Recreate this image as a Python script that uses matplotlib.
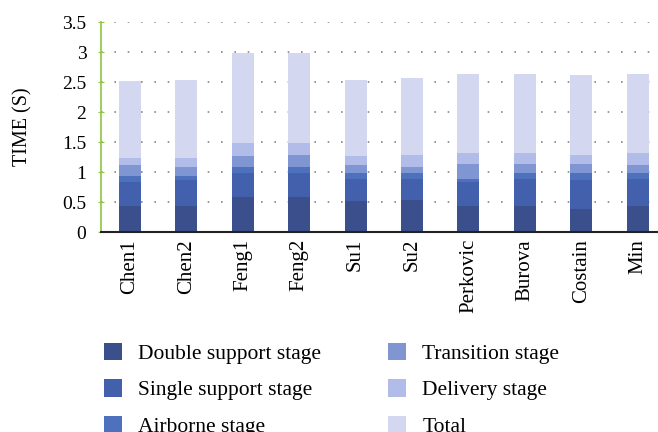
import numpy as np
import matplotlib.pyplot as plt

names = ['Chen1', 'Chen2', 'Feng1', 'Feng2', 'Su1', 'Su2', 'Perkovic', 'Burova', 'Costain', 'Min']
double_support = [0.43, 0.43, 0.58, 0.58, 0.51, 0.53, 0.44, 0.43, 0.38, 0.43]
single_support = [0.41, 0.43, 0.41, 0.41, 0.37, 0.36, 0.40, 0.45, 0.48, 0.45]
airborne = [0.09, 0.08, 0.10, 0.10, 0.10, 0.10, 0.05, 0.10, 0.12, 0.11]
transition = [0.18, 0.15, 0.17, 0.19, 0.13, 0.10, 0.24, 0.16, 0.15, 0.12]
delivery = [0.13, 0.15, 0.22, 0.20, 0.15, 0.19, 0.18, 0.17, 0.16, 0.20]
total = [1.27, 1.29, 1.50, 1.50, 1.28, 1.28, 1.33, 1.33, 1.32, 1.33]

series = [
    ('Double support stage', double_support, '#3a4f8c'),
    ('Single support stage', single_support, '#4360ad'),
    ('Airborne stage', airborne, '#4e71bd'),
    ('Transition stage', transition, '#8096d3'),
    ('Delivery stage', delivery, '#b1bce8'),
    ('Total', total, '#d3d8f0'),
]

plt.rcParams['font.family'] = 'Liberation Serif'

fig = plt.figure(figsize=(6.58, 4.32), dpi=100)
ax = fig.add_axes([101/658, 1 - 232/432, 557/658, 210/432])

x = np.arange(len(names))
bottom = np.zeros(len(names))
for label, vals, color in series:
    ax.bar(x, vals, width=0.39, bottom=bottom, color=color, label=label, zorder=2)
    bottom += np.array(vals)

ax.set_ylim(0, 3.5)
ax.set_xlim(-0.51, 9.36)
ax.set_yticks(np.arange(0, 3.51, 0.5))
ax.set_yticklabels(['0', '0.5', '1', '1.5', '2', '2.5', '3', '3.5'], fontsize=14)
ax.set_xticks(x)
ax.set_xticklabels(names, rotation=90, fontsize=15)
ax.tick_params(axis='x', length=0, pad=5)
ax.tick_params(axis='y', length=5, color='#8dc63f', direction='inout', pad=8)
ax.yaxis.grid(True, linestyle=(0, (1, 7)), color='#888888', linewidth=1.2, zorder=0)
ax.set_axisbelow(True)
for s in ['top', 'right']:
    ax.spines[s].set_visible(False)
ax.spines['left'].set_color('#8dc63f')
ax.spines['left'].set_linewidth(1.2)
ax.spines['bottom'].set_color('#222222')
ax.spines['bottom'].set_linewidth(1.5)

fig.text(23/658, 1 - 127/432, 'TIME (S)', rotation=90, fontsize=14.5,
         ha='center', va='center')

fig.legend(*ax.get_legend_handles_labels(), loc='upper left',
           bbox_to_anchor=(104/658, 1 - 343/432), borderaxespad=0, borderpad=0,
           ncol=2, frameon=False, fontsize=15.5, handlelength=0.84, handleheight=0.84,
           handletextpad=0.75, columnspacing=3.1, labelspacing=0.72)

plt.savefig('out.png', dpi=100)
